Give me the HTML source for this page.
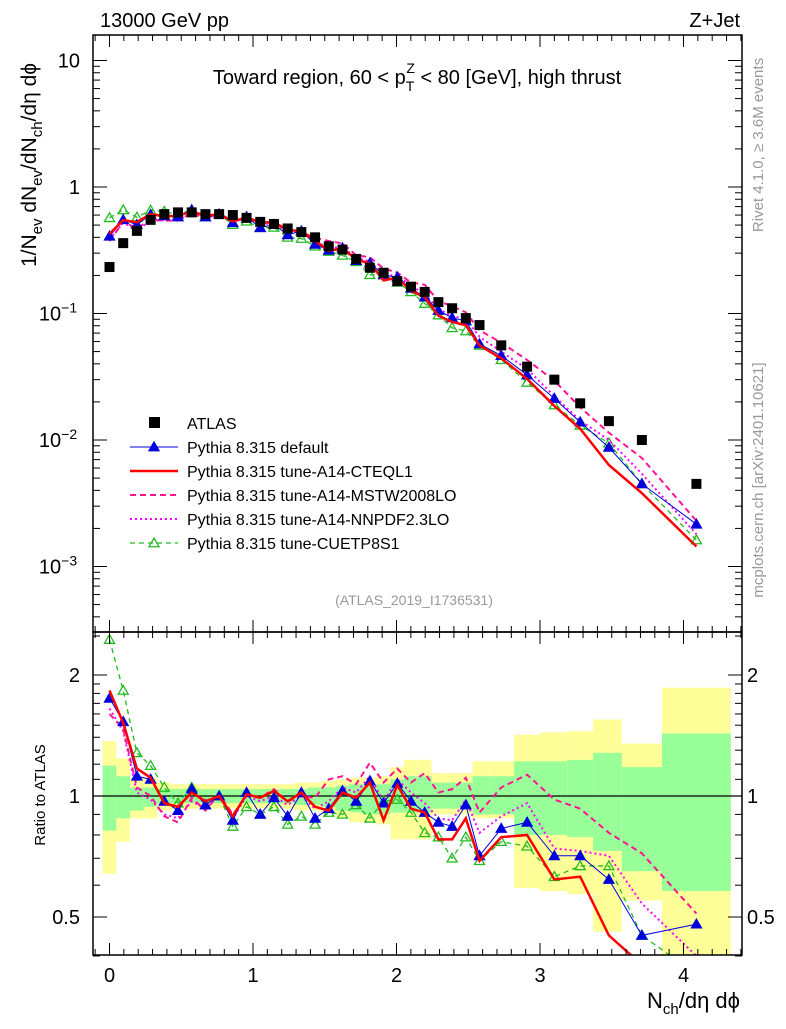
<!DOCTYPE html>
<html><head><meta charset="utf-8"><style>
body{margin:0;background:#fff}
svg text{font-family:"Liberation Sans",sans-serif}
</style></head><body>
<svg id="c" width="786" height="1024" xmlns="http://www.w3.org/2000/svg"></svg>
<script>
const xs=[0,0.0955,0.191,0.2865,0.382,0.4775,0.573,0.6685,0.764,0.8595,0.955,1.0505,1.146,1.2415,1.337,1.4325,1.528,1.6235,1.719,1.8145,1.91,2.0055,2.101,2.1965,2.292,2.3875,2.483,2.5785,2.73,2.91,3.1,3.28,3.48,3.71,4.09];
const atlas=[0.233,0.36,0.45,0.55,0.61,0.63,0.63,0.61,0.61,0.60,0.57,0.53,0.51,0.47,0.44,0.40,0.34,0.32,0.27,0.23,0.21,0.18,0.163,0.148,0.123,0.11,0.092,0.081,0.056,0.038,0.030,0.0195,0.0141,0.01,0.0045];
const rDefault=[1.75,1.53,1.12,1.10,0.97,0.92,1.04,0.95,1.0,0.87,1.02,0.90,0.99,0.89,1.02,0.88,0.93,1.03,0.97,1.09,0.96,1.075,0.97,0.91,0.86,0.84,0.95,0.71,0.83,0.86,0.71,0.71,0.62,0.45,0.48];
const rCTEQ=[1.83,1.52,1.17,1.11,0.96,0.94,1.02,0.97,1.0,0.89,1.01,0.99,1.03,0.97,1.02,0.94,0.92,1.02,0.99,1.08,0.87,1.065,0.93,0.91,0.78,0.78,0.88,0.69,0.79,0.80,0.62,0.63,0.45,0.38,0.32];
const rMSTW=[1.60,1.47,1.05,1.0,0.89,0.86,0.99,0.92,1.01,0.90,1.0,0.99,1.04,0.97,1.0,0.99,1.10,1.12,1.07,1.21,1.08,1.17,1.08,1.14,1.02,1.04,1.11,0.91,1.05,1.13,0.98,0.93,0.81,0.72,0.51];
const rNNPDF=[1.65,1.45,1.02,0.98,0.90,0.88,0.97,0.93,1.0,0.88,1.0,0.97,1.0,0.95,1.0,0.93,0.97,1.05,1.02,1.12,0.97,1.10,1.02,0.96,0.88,0.87,0.98,0.81,0.89,0.96,0.74,0.73,0.71,0.54,0.40];
const rCUETP=[2.45,1.83,1.28,1.19,1.05,0.96,1.05,0.95,1.0,0.84,0.94,0.90,0.94,0.85,0.89,0.85,0.91,0.90,0.95,0.88,0.97,0.98,0.91,0.81,0.79,0.70,0.79,0.69,0.77,0.75,0.63,0.67,0.67,0.45,0.36];
const binLo=[-0.048,0.048,0.143,0.239,0.334,0.43,0.525,0.62,0.716,0.811,0.907,1.002,1.098,1.193,1.289,1.384,1.48,1.575,1.671,1.766,1.862,1.957,2.053,2.148,2.244,2.339,2.435,2.53,2.65,2.82,3.0,3.19,3.37,3.57,3.85];
const binHi=[0.048,0.143,0.239,0.334,0.43,0.525,0.62,0.716,0.811,0.907,1.002,1.098,1.193,1.289,1.384,1.48,1.575,1.671,1.766,1.862,1.957,2.053,2.148,2.244,2.339,2.435,2.53,2.65,2.82,3.0,3.19,3.37,3.57,3.85,4.33];
const yelUp=[1.37,1.24,1.11,1.11,1.08,1.07,1.07,1.07,1.07,1.07,1.07,1.07,1.07,1.07,1.08,1.08,1.09,1.10,1.11,1.11,1.12,1.18,1.23,1.23,1.14,1.14,1.14,1.22,1.22,1.42,1.44,1.45,1.55,1.35,1.86];
const yelDn=[0.64,0.77,0.88,0.88,0.92,0.93,0.93,0.93,0.93,0.93,0.93,0.93,0.93,0.93,0.92,0.92,0.91,0.88,0.86,0.86,0.85,0.78,0.78,0.78,0.90,0.90,0.90,0.88,0.88,0.59,0.58,0.57,0.46,0.55,0.3];
const grnUp=[1.19,1.12,1.05,1.05,1.04,1.04,1.04,1.04,1.04,1.04,1.04,1.04,1.04,1.04,1.04,1.05,1.05,1.06,1.07,1.07,1.07,1.10,1.12,1.12,1.08,1.08,1.08,1.12,1.12,1.22,1.22,1.23,1.28,1.18,1.43];
const grnDn=[0.82,0.88,0.92,0.94,0.96,0.96,0.96,0.96,0.96,0.96,0.96,0.96,0.96,0.96,0.95,0.95,0.94,0.92,0.91,0.90,0.90,0.91,0.91,0.91,0.93,0.93,0.93,0.9,0.9,0.80,0.80,0.79,0.73,0.65,0.58];
const xTicks=[0,1,2,3,4];

const NS="http://www.w3.org/2000/svg",svg=document.getElementById('c');
const L=93,R=742,T=35,M=632,B=955;
const X=v=>109.5+143.5*v;
const Ym=v=>187-126.5*Math.log10(v);
const Yr=v=>796-402*Math.log10(v);
function el(t,a,p){const e=document.createElementNS(NS,t);for(const k in a)e.setAttribute(k,a[k]);(p||svg).appendChild(e);return e;}
function txt(s,x,y,size,anchor,fill,p){const e=el('text',{x:x,y:y,'font-size':size,'text-anchor':anchor||'start',fill:fill||'#000'},p);e.innerHTML=s;return e;}

const defs=el('defs',{});
const c1=el('clipPath',{id:'cm'},defs);el('rect',{x:L,y:T,width:R-L,height:M-T},c1);
const c2=el('clipPath',{id:'cr'},defs);el('rect',{x:L,y:M,width:R-L,height:B-M},c2);

const gr=el('g',{'clip-path':'url(#cr)'});

for(let i=0;i<xs.length;i++){
 const r=el('rect',{x:X(binLo[i]),y:Yr(yelUp[i]),width:X(binHi[i])-X(binLo[i]),height:Yr(yelDn[i])-Yr(yelUp[i]),fill:'#ffff99'},gr);
 
}
for(let i=0;i<xs.length;i++){
 const r=el('rect',{x:X(binLo[i]),y:Yr(grnUp[i]),width:X(binHi[i])-X(binLo[i]),height:Yr(grnDn[i])-Yr(grnUp[i]),fill:'#99ff99'},gr);
 
}
el('line',{x1:L,x2:R,y1:Yr(1),y2:Yr(1),stroke:'#000','stroke-width':1.2},gr);

const series=[
 {n:'cuetp8s1',r:rCUETP,c:'#22bb22',w:1.3,d:'5,4',m:'otri'},
 {n:'nnpdf',r:rNNPDF,c:'#ff00ff',w:2,d:'2,3',m:null},
 {n:'mstw',r:rMSTW,c:'#ff1493',w:2,d:'6,4',m:null},
 {n:'default',r:rDefault,c:'#0000dd',w:1,d:null,m:'tri'},
 {n:'cteql1',r:rCTEQ,c:'#ff0000',w:2.5,d:null,m:null},
];
function tri(x,y,s,filled,col,p){return el('path',{d:`M${x},${y-s} L${x+s},${y+s*0.75} L${x-s},${y+s*0.75}Z`,fill:filled?col:'none',stroke:col,'stroke-width':1.3},p);}
function drawSeries(g,vals,Y,s){
 const pts=xs.map((x,i)=>X(x)+','+Y(vals[i])).join(' ');
 const pl=el('polyline',{points:pts,fill:'none',stroke:s.c,'stroke-width':s.w},g);
 if(s.d)pl.setAttribute('stroke-dasharray',s.d);
 
 xs.forEach((x,i)=>{
  if(s.m){const t=tri(X(x),Y(vals[i]),5,s.m==='tri',s.c,g);
   }
 });
}
series.forEach(s=>{
 const g=el('g',{'clip-path':'url(#cr)'});
 
 drawSeries(g,s.r,Yr,s);
 const g2=el('g',{'clip-path':'url(#cm)'});
 
 drawSeries(g2,s.r.map((v,i)=>v*atlas[i]),Ym,s);
});
const ga=el('g',{'clip-path':'url(#cm)'});

xs.forEach((x,i)=>{
 const r=el('rect',{x:X(x)-5,y:Ym(atlas[i])-5,width:10,height:10,fill:'#000'},ga);
 
});

[[T,M],[M,B]].forEach(([a,b],k)=>{
 const f=el('rect',{x:L,y:a,width:R-L,height:b-a,fill:'none',stroke:'#000','stroke-width':1.5});
 
 for(let v=-0.1;v<=4.41;v+=0.1){const vv=Math.round(v*10)/10;const maj=Math.abs(vv-Math.round(vv))<1e-6;const len=maj?12:6;
  const px=X(vv);if(px<L||px>R)continue;
  el('line',{x1:px,x2:px,y1:b,y2:b-len,stroke:'#000'});
  el('line',{x1:px,x2:px,y1:a,y2:a+len,stroke:'#000'});}
});
xTicks.forEach(v=>{const t=txt(v,X(v),982,20,'middle');});
for(let d=-4;d<=1;d++){for(let m=1;m<10;m++){const v=m*Math.pow(10,d);const y=Ym(v);if(y<T||y>M)continue;const len=m===1?14:7;
 el('line',{x1:L,x2:L+len,y1:y,y2:y,stroke:'#000'});el('line',{x1:R,x2:R-len,y1:y,y2:y,stroke:'#000'});}}
const ylab=[['10',1],['1',0],['10<tspan dy="-8" font-size="14">−1</tspan>',-1],['10<tspan dy="-8" font-size="14">−2</tspan>',-2],['10<tspan dy="-8" font-size="14">−3</tspan>',-3]];
ylab.forEach(([s,d])=>{const t=txt(s,d<0?58:80,Ym(Math.pow(10,d))+7,20,d<0?'middle':'end');});
[0.4,0.5,0.6,0.7,0.8,0.9,1,1.1,1.2,1.3,1.4,1.5,1.6,1.7,1.8,1.9,2,2.5].forEach(v=>{const y=Yr(v);const maj=(v===0.5||v===1||v===2);const len=maj?14:7;
 el('line',{x1:L,x2:L+len,y1:y,y2:y,stroke:'#000'});el('line',{x1:R,x2:R-len,y1:y,y2:y,stroke:'#000'});});
[['2',2],['1',1],['0.5',0.5]].forEach(([s,v])=>{
 let t=txt(s,80,Yr(v)+7,20,'end');
 t=txt(s,747,Yr(v)+7,20,'start');});

let t;
t=txt('13000 GeV pp',100,27,20);
t=txt('Z+Jet',740,27,20,'end');
t=txt('Toward region, 60 &lt; p<tspan dy="7" font-size="14">T</tspan><tspan dy="-18" dx="-8" font-size="14">Z</tspan><tspan dy="11"> &lt; 80 [GeV], high thrust</tspan>',417,84,20,'middle');
t=txt('(ATLAS_2019_I1736531)',414,605,14,'middle','#999');
t=txt('N<tspan dy="6" font-size="15">ch</tspan><tspan dy="-6">/dη dϕ</tspan>',740,1008,22,'end');
t=txt('1/N<tspan dy="6" font-size="15">ev</tspan><tspan dy="-6"> dN</tspan><tspan dy="6" font-size="15">ev</tspan><tspan dy="-6">/dN</tspan><tspan dy="6" font-size="15">ch</tspan><tspan dy="-6">/dη dϕ</tspan>',0,0,21,'middle');
t.setAttribute('transform','translate(36,165) rotate(-90)');
t=txt('Ratio to ATLAS',0,0,15,'middle');t.setAttribute('transform','translate(45,795) rotate(-90)');
t=txt('Rivet 4.1.0, ≥ 3.6M events',0,0,15,'middle','#999');t.setAttribute('transform','translate(763,145) rotate(-90)');
t=txt('mcplots.cern.ch [arXiv:2401.10621]',0,0,15,'middle','#999');t.setAttribute('transform','translate(763,480) rotate(-90)');

const lg=el('g',{});
const leg=[['ATLAS',null],['Pythia 8.315 default',series[3]],['Pythia 8.315 tune-A14-CTEQL1',series[4]],['Pythia 8.315 tune-A14-MSTW2008LO',series[2]],['Pythia 8.315 tune-A14-NNPDF2.3LO',series[1]],['Pythia 8.315 tune-CUETP8S1',series[0]]];
leg.forEach(([s,se],i)=>{const y=423+24*i;
 const g=el('g',{},lg);
 if(!se){el('rect',{x:149,y:y-6,width:11,height:11,fill:'#000'},g);}
 else{const l=el('line',{x1:130,x2:178,y1:y,y2:y,stroke:se.c,'stroke-width':se.w},g);if(se.d)l.setAttribute('stroke-dasharray',se.d);
  if(se.m)tri(154,y,5,se.m==='tri',se.c,g);}
 txt(s,187,y+6,16,'start','#000',g);
});
</script>
</body></html>
